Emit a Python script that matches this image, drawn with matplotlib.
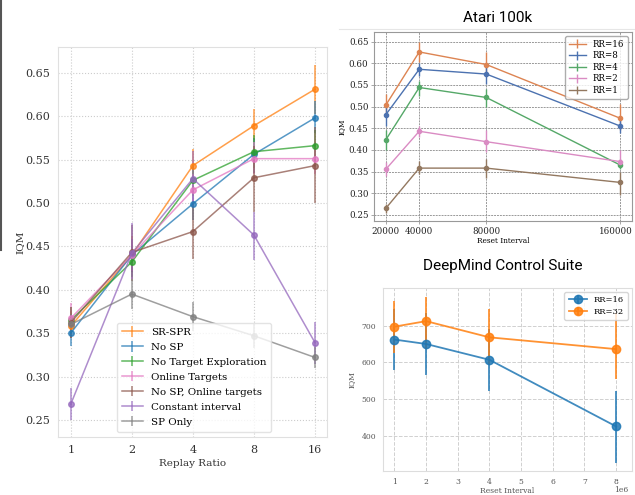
import matplotlib
matplotlib.use("Agg")
import matplotlib.pyplot as plt
import matplotlib.transforms as mtransforms
import numpy as np

# ---------------- data: left panel ----------------
replay_ratios = [1, 2, 4, 8, 16]
methods = ["SR-SPR", "No SP", "No Target Exploration", "Online Targets",
           "No SP, Online targets", "Constant interval", "SP Only"]
srspr = [0.358, 0.440, 0.543, 0.589, 0.631]
srspr_lo = [0.345, 0.420, 0.525, 0.570, 0.603]
srspr_hi = [0.375, 0.462, 0.562, 0.608, 0.659]
nosp = [0.350, 0.440, 0.499, 0.556, 0.598]
nosp_lo = [0.335, 0.420, 0.480, 0.535, 0.580]
nosp_hi = [0.366, 0.458, 0.518, 0.575, 0.617]
notexp = [0.365, 0.432, 0.526, 0.559, 0.566]
notexp_lo = [0.350, 0.415, 0.508, 0.540, 0.548]
notexp_hi = [0.380, 0.450, 0.544, 0.578, 0.584]
online = [0.367, 0.440, 0.515, 0.551, 0.551]
online_lo = [0.352, 0.422, 0.497, 0.533, 0.533]
online_hi = [0.385, 0.458, 0.533, 0.570, 0.569]
nosp_online = [0.362, 0.443, 0.467, 0.529, 0.543]
nosp_online_lo = [0.345, 0.410, 0.435, 0.490, 0.500]
nosp_online_hi = [0.380, 0.475, 0.500, 0.565, 0.588]
const_int = [0.268, 0.442, 0.528, 0.463, 0.339]
const_int_lo = [0.250, 0.412, 0.495, 0.434, 0.315]
const_int_hi = [0.287, 0.477, 0.560, 0.490, 0.363]
sp_only = [0.360, 0.395, 0.369, 0.347, 0.322]
sp_only_lo = [0.348, 0.378, 0.352, 0.333, 0.310]
sp_only_hi = [0.372, 0.412, 0.386, 0.361, 0.334]

# ---------------- data: Atari 100k ----------------
reset_intervals = [20000, 40000, 80000, 160000]
atari_labels = ["RR=16", "RR=8", "RR=4", "RR=2", "RR=1"]
rr16 = [0.503, 0.626, 0.597, 0.473]
rr16_lo = [0.480, 0.603, 0.570, 0.445]
rr16_hi = [0.530, 0.650, 0.625, 0.505]
rr8 = [0.481, 0.586, 0.575, 0.455]
rr8_lo = [0.455, 0.570, 0.552, 0.438]
rr8_hi = [0.500, 0.600, 0.592, 0.470]
rr4 = [0.423, 0.544, 0.521, 0.365]
rr4_lo = [0.400, 0.525, 0.500, 0.355]
rr4_hi = [0.445, 0.560, 0.540, 0.380]
rr2 = [0.355, 0.443, 0.419, 0.373]
rr2_lo = [0.340, 0.430, 0.395, 0.360]
rr2_hi = [0.372, 0.456, 0.445, 0.400]
rr1 = [0.265, 0.358, 0.358, 0.325]
rr1_lo = [0.255, 0.345, 0.335, 0.295]
rr1_hi = [0.275, 0.375, 0.380, 0.350]

# ---------------- data: DeepMind Control Suite ----------------
dmc_intervals = [1e6, 2e6, 4e6, 8e6]
dmc_labels = ["RR=16", "RR=32"]
dmc16 = [662, 650, 607, 426]
dmc16_lo = [580, 566, 523, 327]
dmc16_hi = [745, 735, 690, 522]
dmc32 = [697, 712, 668, 636]
dmc32_lo = [625, 635, 595, 555]
dmc32_hi = [767, 778, 745, 734]

W, H = 635, 495
fig = plt.figure(figsize=(W / 100, H / 100), dpi=100)

def rect(x0, y0, x1, y1):
    return [x0 / W, 1 - y1 / H, (x1 - x0) / W, (y1 - y0) / H]

serif = "DejaVu Serif"

def yerr(v, lo, hi):
    v = np.array(v); return [v - np.array(lo), np.array(hi) - v]

# ---------- left panel ----------
ax = fig.add_axes(rect(58, 47, 327, 437))
tab = ["#ff7f0e", "#1f77b4", "#2ca02c", "#e377c2", "#8c564b", "#9467bd", "#7f7f7f"]
series = [(srspr, srspr_lo, srspr_hi), (nosp, nosp_lo, nosp_hi),
          (notexp, notexp_lo, notexp_hi), (online, online_lo, online_hi),
          (nosp_online, nosp_online_lo, nosp_online_hi),
          (const_int, const_int_lo, const_int_hi), (sp_only, sp_only_lo, sp_only_hi)]
handles = []
for (v, lo, hi), c, lab in zip(series, tab, methods):
    ax.errorbar(replay_ratios, v, yerr=yerr(v, lo, hi), color=c, alpha=0.75,
                marker="o", ms=4, lw=1.1, elinewidth=1.1, capsize=0)
    h = ax.errorbar([np.nan], [np.nan], yerr=[[0], [0]], color=c, alpha=0.75,
                    lw=1.1, elinewidth=1.1, label=lab)
    handles.append(h)
ax.set_xscale("log", base=2)
ax.set_xlim(2 ** -0.208, 2 ** 4.196)
ax.set_ylim(0.2304, 0.6796)
ax.set_xticks(replay_ratios)
ax.set_xticklabels([str(r) for r in replay_ratios])
ax.minorticks_off()
yt = [0.25, 0.30, 0.35, 0.40, 0.45, 0.50, 0.55, 0.60, 0.65]
ax.set_yticks(yt)
ax.set_yticklabels([f"{t:.2f}" for t in yt])
ax.grid(True, ls=":", color="#cccccc", lw=0.8)
for s in ax.spines.values():
    s.set_color("#e0e0e0")
ax.tick_params(length=0, pad=6, labelsize=8, labelcolor="#333333")
for t in ax.get_xticklabels() + ax.get_yticklabels():
    t.set_family(serif)
ax.set_xlabel("Replay Ratio", family=serif, fontsize=7.5, color="#333333", labelpad=3)
ax.set_ylabel("IQM", family=serif, fontsize=7.5, color="#333333", labelpad=0)
ax.legend(handles=handles, labels=methods, loc="lower left",
          bbox_to_anchor=(0.2, 0.0), prop={"family": serif, "size": 7.4},
          frameon=True, framealpha=0.8, edgecolor="#dddddd", handlelength=2.0,
          labelspacing=0.56, borderpad=0.5, fancybox=True)

# ---------- Atari 100k ----------
ax2 = fig.add_axes(rect(374, 32, 632, 221))
deep = ["#dd8452", "#4c72b0", "#55a868", "#da8bc3", "#937860"]
aser = [(rr16, rr16_lo, rr16_hi), (rr8, rr8_lo, rr8_hi), (rr4, rr4_lo, rr4_hi),
        (rr2, rr2_lo, rr2_hi), (rr1, rr1_lo, rr1_hi)]
ahandles = []
for (v, lo, hi), c, lab in zip(aser, deep, atari_labels):
    ax2.errorbar(reset_intervals, v, yerr=yerr(v, lo, hi), color=c, marker="o",
                 ms=3, lw=1.0, elinewidth=1.0, capsize=0)
    ahandles.append(ax2.errorbar([np.nan], [np.nan], yerr=[[0], [0]], color=c,
                                 lw=1.0, elinewidth=1.0, label=lab))
ax2.set_xlim(13000, 167000)
ax2.set_ylim(0.236, 0.672)
ax2.set_xticks(reset_intervals)
ax2.set_xticklabels([str(r) for r in reset_intervals])
ax2.set_yticks(yt)
ax2.set_yticklabels([f"{t:.2f}" for t in yt])
ax2.grid(True, ls="--", color="#999999", lw=0.7, dashes=(2, 1))
for s in ax2.spines.values():
    s.set_color("#999999")
ax2.tick_params(length=2, width=0.6, color="#999999", pad=2, labelsize=6.3,
                labelcolor="#222222")
for t in ax2.get_xticklabels() + ax2.get_yticklabels():
    t.set_family(serif)
last = ax2.get_xticklabels()[-1]
last.set_transform(last.get_transform() +
                   mtransforms.ScaledTranslation(-4 / 100, 0, fig.dpi_scale_trans))
ax2.set_xlabel("Reset Interval", family=serif, fontsize=5.3, labelpad=1)
ax2.set_ylabel("IQM", family=serif, fontsize=5.3, labelpad=2)
ax2.legend(handles=ahandles, labels=atari_labels, loc="upper right",
           prop={"family": serif, "size": 6.2}, frameon=True,
           edgecolor="#999999", fancybox=True, labelspacing=0.3, borderpad=0.4,
           handlelength=2.0)
fig.text(498 / W, 1 - 18 / H, "Atari 100k", family="Roboto", fontsize=11,
         ha="center", va="center")
fig.add_artist(plt.Line2D([339 / W, 1], [1 - 29 / H, 1 - 29 / H], color="#e6e6e6",
                          lw=0.8))

# ---------- DeepMind Control Suite ----------
ax3 = fig.add_axes(rect(383, 288, 632, 471))
dser = [(dmc16, dmc16_lo, dmc16_hi), (dmc32, dmc32_lo, dmc32_hi)]
for (v, lo, hi), c, lab in zip(dser, ["#1f77b4", "#ff7f0e"], dmc_labels):
    ax3.errorbar(dmc_intervals, v, yerr=yerr(v, lo, hi), color=c, alpha=0.85,
                 marker="o", ms=6, lw=1.3, elinewidth=1.3, capsize=0, label=lab)
ax3.set_xlim(0.64e6, 8.5e6)
ax3.set_ylim(305, 802)
ax3.set_xticks([1e6, 2e6, 3e6, 4e6, 5e6, 6e6, 7e6, 8e6])
ax3.set_yticks([400, 500, 600, 700])
ax3.grid(True, ls="--", color="#d0d0d0", lw=0.7)
for s in ax3.spines.values():
    s.set_color("#dddddd")
ax3.tick_params(length=0, pad=5, labelsize=5.5, labelcolor="#555555")
for t in ax3.get_xticklabels() + ax3.get_yticklabels():
    t.set_family(serif)
off = ax3.xaxis.get_offset_text()
off.set_family(serif)
off.set_fontsize(5.5)
off.set_color("#555555")
off.set_transform(off.get_transform() +
                  mtransforms.ScaledTranslation(-4 / 100, 4 / 100, fig.dpi_scale_trans))
ax3.set_xlabel("Reset Interval", family=serif, fontsize=5.5, color="#555555",
               labelpad=1)
ax3.set_ylabel("IQM", family=serif, fontsize=5.5, color="#555555", labelpad=4)
ax3.legend(loc="upper right", prop={"family": serif, "size": 6}, frameon=True,
           edgecolor="#cccccc", fancybox=True, labelspacing=0.4, borderpad=0.5,
           handlelength=2.2)
fig.text(503 / W, 1 - 266 / H, "DeepMind Control Suite", family="Roboto",
         fontsize=11, ha="center", va="center")

# left edge artifact line
fig.add_artist(plt.Line2D([1 / W, 1 / W], [1 - 250 / H, 1], color="#555555", lw=1.5))

fig.savefig("out.png", dpi=100)
